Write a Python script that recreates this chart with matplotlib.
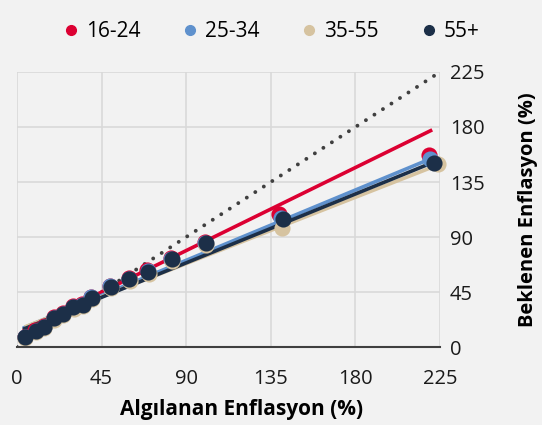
import matplotlib.pyplot as plt

plt.rcParams['font.family'] = ['Open Sans', 'DejaVu Sans']

groups = ['16-24', '25-34', '35-55', '55+']
colors = ['#dc0032', '#5f91cd', '#d6c3a0', '#1c2f48']

# algilanan (x) / beklenen (y) enflasyon, yas gruplarina gore
x_1624 = [4.2, 9.8, 14.3, 19.5, 24.3, 29.8, 34.7, 39.5, 49.5, 59.4, 69.4, 82, 100, 139.5, 219]
y_1624 = [8.5, 13.8, 16.8, 24.3, 27.8, 33.3, 35.2, 41, 50.2, 56.6, 62.6, 73, 86, 109, 157]
x_2534 = [4.3, 9.9, 14.4, 19.7, 24.5, 29.9, 34.8, 39.6, 49.6, 59.5, 69.6, 82.1, 100.2, 140.5, 219.7]
y_2534 = [8.2, 13.4, 16.4, 23.8, 27.3, 32.8, 34.7, 40.6, 49.6, 56, 62, 72.2, 85.3, 105.5, 153.6]
x_3555 = [4.5, 10.1, 14.6, 19.9, 24.7, 30.1, 35, 39.8, 49.9, 59.9, 70, 82.5, 100.6, 141, 224]
y_3555 = [7, 12.2, 15.2, 22.5, 26, 31.4, 33.2, 39.1, 48, 54.2, 60, 70.2, 83.2, 97, 150]
x_55 = [4.4, 10, 14.5, 19.8, 24.6, 30, 34.9, 39.7, 49.8, 59.7, 69.8, 82.3, 100.4, 141.7, 221.8]
y_55 = [7.9, 13.1, 16.1, 23.5, 27, 32.5, 34.4, 40.3, 49.3, 55.6, 61.6, 71.8, 84.9, 104.4, 150.8]

# egilim cizgileri (baslangic, bitis)
trend_x = [[4, 220], [4, 220], [5, 224], [4, 222]]
trend_y = [[14, 177], [16, 154], [17, 149], [15, 151.5]]

ticks = [0, 45, 90, 135, 180, 225]

xs = [x_1624, x_2534, x_3555, x_55]
ys = [y_1624, y_2534, y_3555, y_55]

fig = plt.figure(figsize=(5.42, 4.25), dpi=100, facecolor='#f2f2f2')
ax = fig.add_axes([0.0314, 0.1835, 0.7804, 0.6471])
ax.set_facecolor('#f2f2f2')

ax.plot([0, 225], [0, 225], linestyle=(0, (0.01, 2.6)), color='#404040',
        lw=2.8, dash_capstyle='round', solid_capstyle='round', zorder=2)

for i in range(4):
    ax.plot(trend_x[i], trend_y[i], color=colors[i], lw=2.6, zorder=3)

for i in range(4):
    ax.scatter(xs[i], ys[i], s=135, color=colors[i], zorder=4 + i,
               clip_on=False, label=groups[i], linewidths=0)

ax.set_xlim(0, 225)
ax.set_ylim(0, 225)
ax.set_xticks(ticks)
ax.set_yticks(ticks)
ax.grid(True, color='#d9d9d9', lw=1.2, zorder=0)
ax.set_axisbelow(True)
for s in ['top', 'left', 'right']:
    ax.spines[s].set_visible(False)
ax.spines['bottom'].set_color('#404040')
ax.spines['bottom'].set_linewidth(1.5)
ax.spines['bottom'].set_zorder(10)

ax.yaxis.tick_right()
ax.yaxis.set_label_position('right')
ax.tick_params(axis='both', length=0, labelsize=14.5, colors='#1a1a1a')
ax.tick_params(axis='x', pad=16)
ax.tick_params(axis='y', pad=7)

ax.set_xlabel('Algılanan Enflasyon (%)', fontsize=15, fontweight='bold')
ax.xaxis.set_label_coords(0.532, -0.229)
ax.xaxis.label.set_va('center')
ax.set_ylabel('Beklenen Enflasyon (%)', fontsize=14.5, fontweight='bold', labelpad=24)

handles = [plt.Line2D([], [], marker='o', ls='', color=c, markersize=7) for c in colors]
fig.legend(handles, groups, loc='center', bbox_to_anchor=(0.5, 0.926), ncol=4,
           frameon=False, fontsize=15, handlelength=0.8, handletextpad=0.3,
           columnspacing=2.0)

fig.savefig('out.png', dpi=100, facecolor='#f2f2f2')
